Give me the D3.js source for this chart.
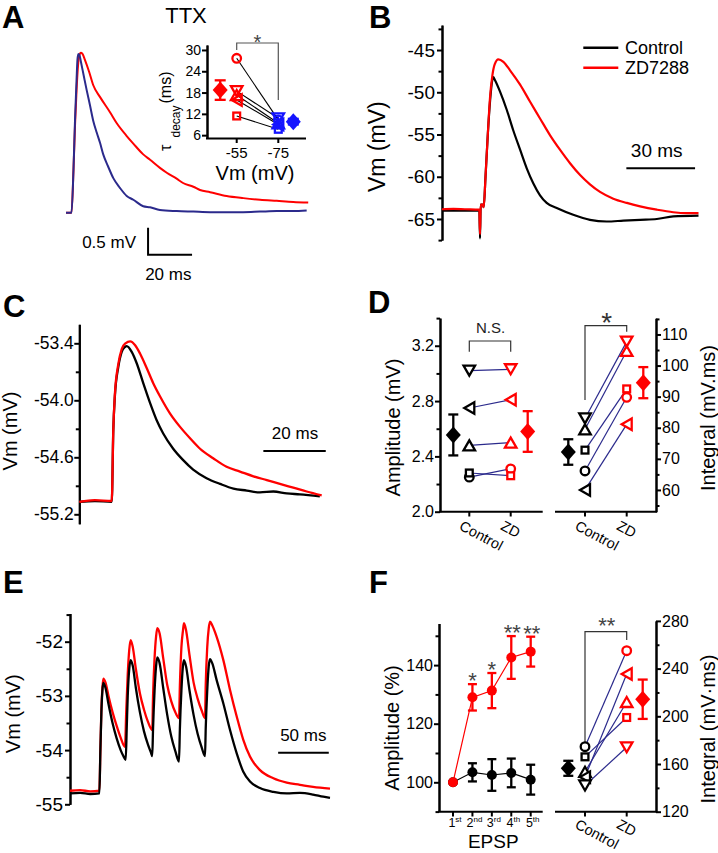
<!DOCTYPE html>
<html><head><meta charset="utf-8">
<script src="https://cdn.jsdelivr.net/npm/d3@7"></script>
<style>body{margin:0;background:#fff}</style>
</head><body><script>
// ================= DATA =================
// Panel A (TTX) traces: [time ms, mV above baseline]
const A_red = [[0,0],[2.5,0],[3.4,0.79],[4.1,1.62],[4.8,2.27],[5.5,2.74],[6.1,2.92],[6.7,2.96],[7.5,2.94],[8.6,2.83],[10.5,2.61],[12.4,2.36],[15.5,2.14],[20,1.86],[23,1.66],[27.6,1.42],[30.6,1.28],[35.1,1.08],[38.2,0.98],[42.7,0.83],[45.8,0.74],[50.3,0.63],[53.2,0.55],[57.9,0.48],[60.9,0.42],[65.5,0.38],[73,0.31],[80.6,0.27],[88.2,0.24],[95.8,0.22],[103.3,0.20],[110.1,0.19]];
const A_blue = [[0,0],[2.5,0],[3.4,0.79],[4.1,1.72],[4.8,2.46],[5.2,2.83],[5.6,2.94],[6.1,2.92],[6.8,2.79],[8,2.55],[9.4,2.27],[10.9,1.99],[12.4,1.70],[14,1.48],[15.5,1.29],[17,1.07],[19.1,0.86],[21.5,0.64],[24.5,0.46],[27.6,0.31],[30.6,0.24],[35.1,0.12],[38.2,0.10],[42.7,0.05],[50.3,0.03],[57.9,0.02],[65.5,0.01],[73,0.01],[80.5,0.01],[88.2,0.02],[95.8,0.03],[103.2,0.03],[109.4,0.04]];
// Panel A inset: tau decay (ms)
const A_cats = ['-55','-75'];
const A_shapes = ['circle','down','up','left','square'];
const A_m55 = [27.65,18.4,17.3,15.9,11.4];
const A_m75 = [10.3,10.75,9.35,9.0,7.65];
const A_mean = [18.7,9.8];
const A_err = [2.75,0.8];
const A_ticks = [6,12,18,24,30];

// Panel B traces: [ms, mV]
const B_control = [[0,-64.0],[8,-64.0],[16.3,-64.0],[16.6,-67.3],[16.9,-63.3],[17.8,-63.3],[18.2,-63.6],[19,-60],[20,-55],[21,-51],[22,-48.5],[22.4,-48.2],[23.1,-48.55],[25.3,-49.9],[28.3,-52.1],[31.1,-54.5],[34.1,-56.8],[37,-59.0],[39.9,-60.8],[42.8,-62.2],[45.7,-63.1],[50.1,-63.7],[57.3,-64.5],[64.6,-65.1],[71.9,-65.3],[79.2,-65.2],[86.5,-65.1],[93.8,-65.0],[101,-64.7],[112,-64.6]];
const B_zd = [[0,-63.85],[5,-63.8],[10,-63.85],[16.3,-63.9],[16.6,-66.8],[16.9,-63.3],[17.8,-63.3],[18.2,-63.6],[19,-60],[20,-55],[21,-50.5],[22,-48],[23,-46.7],[24.6,-46.1],[26.8,-46.4],[29.7,-47.4],[34.1,-49.1],[38.4,-51.1],[42.8,-53.1],[47.2,-55.1],[51.5,-56.8],[55.9,-58.4],[60.3,-59.8],[64.6,-60.9],[69,-61.8],[74.8,-62.6],[80.7,-63.1],[86.5,-63.5],[93.8,-63.9],[101,-64.2],[106.9,-64.3],[112,-64.3]];
const B_ticks = [-65,-60,-55,-50,-45];
const B_minor = [-67.5,-62.5,-57.5,-52.5,-47.5,-42.5];

// Panel C traces
const C_control = [[0,-55.07],[5,-55.06],[10.4,-55.07],[10.9,-54.31],[11.4,-53.96],[12.5,-53.65],[13.6,-53.49],[14.6,-53.44],[15.2,-53.43],[16.8,-53.49],[18.4,-53.61],[20.5,-53.82],[22.7,-54.03],[24.8,-54.21],[26.9,-54.35],[30.1,-54.51],[33.3,-54.63],[36.5,-54.73],[40.8,-54.82],[45.1,-54.88],[49.4,-54.93],[53.7,-54.95],[57.9,-54.97],[62.2,-54.96],[66.5,-54.98],[70.7,-54.99],[77.1,-55.01]];
const C_zd = [[0,-55.07],[5,-55.05],[10.4,-55.06],[10.9,-54.31],[11.4,-53.94],[12.5,-53.62],[13.6,-53.46],[14.8,-53.40],[16.3,-53.38],[17.9,-53.42],[19.5,-53.51],[21.6,-53.66],[23.7,-53.82],[25.9,-53.96],[29.1,-54.14],[32.3,-54.28],[35.5,-54.40],[38.7,-54.51],[42.9,-54.61],[47.2,-54.70],[51.5,-54.75],[55.8,-54.80],[60.1,-54.84],[64.3,-54.88],[68.6,-54.92],[72.9,-54.96],[77.7,-55.0]];
const C_ticks = [-55.2,-54.6,-54.0,-53.4];
const C_minor = [-54.9,-54.3,-53.7];

// Panel D
const D_cats = ['Control','ZD'];
const D_shapes = ['circle','square','up','left','down'];
const D_amp_control = [2.25,2.28,2.48,2.75,3.02];
const D_amp_zd = [2.31,2.26,2.50,2.81,3.03];
const D_amp_mean = [2.555,2.58];
const D_amp_err = [0.148,0.147];
const D_amp_ticks = [2.0,2.4,2.8,3.2];
const D_amp_minor = [2.2,2.6,3.0,3.4];
const D_int_control = [66.1,72.8,79.5,60.0,83.0];
const D_int_zd = [89.8,92.5,104.7,81.1,107.7];
const D_int_mean = [72.2,94.5];
const D_int_err = [4.1,5.0];
const D_int_ticks = [60,70,80,90,100,110];
const D_int_minor = [55,65,75,85,95,105,115];

// Panel E traces
const E_control = [[0,-54.80],[10,-54.79],[20,-54.81],[29,-54.80],[30,-54.0],[31,-53.3],[32,-52.9],[32.9,-52.76],[35,-52.85],[38,-53.15],[42,-53.5],[46,-53.78],[50,-54.0],[53,-54.12],[55,-54.18],[56,-53.6],[57,-53.0],[58.5,-52.5],[59.9,-52.34],[62,-52.45],[65,-52.85],[69,-53.3],[73,-53.65],[77,-53.9],[80,-54.05],[81.2,-54.11],[82,-53.6],[83.5,-52.9],[85,-52.45],[86.2,-52.29],[88.5,-52.4],[92,-52.85],[96,-53.35],[100,-53.75],[104,-54.02],[107.6,-54.21],[108.5,-53.6],[110,-52.9],[111.5,-52.45],[112.5,-52.34],[114.5,-52.45],[118,-52.9],[122,-53.35],[126,-53.7],[130,-53.95],[133.3,-54.11],[134,-53.6],[135.5,-52.9],[137,-52.45],[138.2,-52.32],[140.5,-52.4],[144.8,-52.71],[151.4,-53.14],[158,-53.63],[164.6,-54.06],[171.1,-54.40],[177.7,-54.58],[187.6,-54.70],[200.8,-54.77],[214,-54.80],[227,-54.79],[240,-54.82],[250,-54.86],[256.7,-54.88]];
const E_zd = [[0,-54.75],[10,-54.74],[20,-54.76],[29,-54.75],[30,-54.0],[31,-53.25],[32,-52.85],[32.9,-52.68],[35,-52.75],[38,-53.0],[42,-53.3],[46,-53.55],[50,-53.77],[54.3,-53.94],[55.5,-53.3],[57,-52.6],[58.5,-52.15],[59.9,-51.97],[62,-52.1],[65,-52.5],[69,-52.95],[73,-53.25],[77,-53.48],[81.2,-53.63],[82,-53.0],[83.5,-52.3],[85,-51.9],[86.2,-51.75],[88.5,-51.85],[92,-52.3],[96,-52.8],[100,-53.1],[104,-53.3],[107.6,-53.41],[108.5,-52.8],[110,-52.1],[111.5,-51.8],[112.5,-51.66],[114.5,-51.78],[118,-52.25],[122,-52.75],[126,-53.05],[130,-53.27],[133.3,-53.41],[134,-52.8],[135.5,-52.1],[137,-51.75],[138.2,-51.63],[140.5,-51.7],[144.8,-51.91],[151.4,-52.34],[158,-52.89],[164.6,-53.38],[171.1,-53.81],[177.7,-54.12],[187.6,-54.37],[200.8,-54.52],[214,-54.60],[227,-54.64],[240,-54.68],[256.7,-54.71]];
const E_ticks = [-55,-54,-53,-52];
const E_minor = [-54.5,-53.5,-52.5,-51.5];

// Panel F
const F_epsp = ['1','2','3','4','5'];
const F_sup = ['st','nd','rd','th','th'];
const F_amp_zd = [100,129.0,131.3,142.6,144.6];
const F_amp_zd_err = [0,4.5,6.0,7.3,5.1];
const F_amp_ctrl = [100,103.4,102.5,103.2,100.9];
const F_amp_ctrl_err = [0,3.1,5.4,4.9,5.1];
const F_stars = ['','*','*','**','**'];
const F_amp_ticks = [100,120,140];
const F_amp_minor = [90,110,130,150];
const F_int_control = [174.5,166,153.5,149,142];
const F_int_zd = [255,199,212,235.5,174];
const F_int_mean = [156.4,214.3];
const F_int_err = [6.3,16.5];
const F_int_ticks = [120,160,200,240,280];
const F_int_minor = [140,180,220,260];

// ================= DRAWING =================
const FONT = "'Liberation Sans', Arial, Helvetica, sans-serif";
const RED = '#ff0000', NAVY = '#2b2a8c', BLUE = '#1414ff';
const hy = f => d => d3.format(f)(d).replace('\u2212','-');
const svg = d3.select('body').append('svg').attr('width',718).attr('height',853)
  .style('background','#fff').attr('font-family',FONT);
svg.append('rect').attr('width',718).attr('height',853).attr('fill','#fff');

function txt(x,y,s,size,o={}){
  const t = svg.append('text').attr('x',x).attr('y',y).text(s).attr('font-size',size)
    .attr('fill',o.fill||'#000').attr('font-family',FONT);
  if(o.anchor) t.attr('text-anchor',o.anchor);
  if(o.weight) t.attr('font-weight',o.weight);
  if(o.rotate!=null) t.attr('transform',`rotate(${o.rotate},${x},${y})`);
  return t;
}
function vAxis(scale,x,major,minor,side,fmt,fs,pad){
  const mk = ()=> side==='left'?d3.axisLeft(scale):d3.axisRight(scale);
  const gm = svg.append('g').attr('transform',`translate(${x},0)`)
    .call(mk().tickValues(major).tickFormat(fmt).tickSize(5).tickSizeOuter(0).tickPadding(pad));
  const gn = svg.append('g').attr('transform',`translate(${x},0)`)
    .call(mk().tickValues(minor).tickFormat('').tickSize(3.5).tickSizeOuter(0));
  [gm,gn].forEach(a=>{
    a.attr('font-family',FONT);
    a.select('.domain').attr('stroke-width',2).attr('stroke','#000');
    a.selectAll('.tick line').attr('stroke-width',2).attr('stroke','#000');
    a.selectAll('text').attr('font-family',FONT).attr('font-size',fs).attr('fill','#000');
  });
}
function hLine(x1,x2,y,w=2,c='#000'){svg.append('line').attr('x1',x1).attr('x2',x2).attr('y1',y).attr('y2',y).attr('stroke',c).attr('stroke-width',w);}
function vLine(x,y1,y2,w=2,c='#000'){svg.append('line').attr('x1',x).attr('x2',x).attr('y1',y1).attr('y2',y2).attr('stroke',c).attr('stroke-width',w);}
function trace(data,xs,ys,color,w){
  svg.append('path').datum(data).attr('fill','none').attr('stroke',color).attr('stroke-width',w)
    .attr('stroke-linejoin','round')
    .attr('d',d3.line().x(d=>xs(d[0])).y(d=>ys(d[1])).curve(d3.curveMonotoneX));
}
function marker(type,x,y,color,fill,sw=2.3){
  let el;
  const w=11.5,h=10;
  if(type==='circle') el=svg.append('circle').attr('cx',x).attr('cy',y).attr('r',4.3);
  else if(type==='square') el=svg.append('rect').attr('x',x-3.4).attr('y',y-3.4).attr('width',6.8).attr('height',6.8);
  else {
    let p;
    if(type==='up') p=[[x-w/2,y+h/2],[x+w/2,y+h/2],[x,y-h/2]];
    else if(type==='down') p=[[x-w/2,y-h/2],[x+w/2,y-h/2],[x,y+h/2]];
    else if(type==='left') p=[[x+h/2,y-w/2],[x+h/2,y+w/2],[x-h/2,y]];
    el=svg.append('path').attr('d','M'+p.map(q=>q.join(',')).join('L')+'Z');
  }
  el.attr('fill',fill).attr('stroke',color).attr('stroke-width',sw);
}
function diamond(x,y,color){
  svg.append('path').attr('d',`M${x},${y-8.5}L${x+7.5},${y}L${x},${y+8.5}L${x-7.5},${y}Z`).attr('fill',color);
}
function errBar(x,yTop,yBot,color,cap=10,w=2.3){
  vLine(x,yTop,yBot,w,color); hLine(x-cap/2,x+cap/2,yTop,w,color); hLine(x-cap/2,x+cap/2,yBot,w,color);
}
function catLabels(xs,y,labels){
  labels.forEach((l,i)=>txt(xs[i]-11,y,l,14.5,{rotate:28}));
}

// ----- panel labels -----
[['A',2,28],['B',369,28],['C',3,317],['D',368,313],['E',3,593],['F',369,593]]
  .forEach(([l,x,y])=>txt(x,y,l,31,{weight:'bold'}));

// ================= PANEL A =================
txt(186,23,'TTX',22,{anchor:'middle'});
const xA = d3.scaleLinear().domain([0,110]).range([66,308]);
const yA = d3.scaleLinear().domain([0,1]).range([212.7,158.7]);
trace(A_red,xA,yA,RED,2);
trace(A_blue,xA,yA,NAVY,2);
// scale bar 0.5 mV / 20 ms
const sbT=37.3, sbV=-0.78;
svg.append('path').attr('d',`M${xA(sbT)},${yA(sbV+0.5)}V${yA(sbV)}H${xA(sbT+20)}`).attr('fill','none').attr('stroke','#000').attr('stroke-width',2);
txt(136,248.3,'0.5 mV',17,{anchor:'end'});
txt(168.3,280,'20 ms',17,{anchor:'middle'});
// inset
const yI = d3.scaleLinear().domain([5.2,31.4]).range([138,45]);
const xI = d3.scaleLinear().domain([0,1]).range([236.7,278.3]);
vAxis(yI,207,A_ticks,[], 'left', hy('d'),14,1);
hLine(206,306,138.5,2);
A_cats.forEach((c,i)=>{vLine(xI(i),138.5,143,2); txt(xI(i),158,c,15,{anchor:'middle'});});
txt(255,180,'Vm (mV)',20,{anchor:'middle'});
txt(171,151,'τ',16,{rotate:-90});
txt(180,137.5,'decay',12,{rotate:-90});
txt(171,103.5,'(ms)',16,{rotate:-90});
// significance
svg.append('path').attr('d',`M${xI(0)},${50}V43H${xI(1)}V${100}`).attr('fill','none').attr('stroke','#555').attr('stroke-width',1.2);
txt((xI(0)+xI(1))/2,49.3,'*',20,{anchor:'middle',fill:'#444'});
// lines
A_m55.forEach((v,i)=>svg.append('line').attr('x1',xI(0)).attr('y1',yI(v)).attr('x2',xI(1)).attr('y2',yI(A_m75[i])).attr('stroke','#000').attr('stroke-width',1.1));
errBar(xI(0)-16.5,yI(A_mean[0]+A_err[0]),yI(A_mean[0]-A_err[0]),RED,11);
diamond(xI(0)-16.5,yI(A_mean[0]),RED);
errBar(xI(1)+15,yI(A_mean[1]+A_err[1]),yI(A_mean[1]-A_err[1]),BLUE,11);
diamond(xI(1)+15,yI(A_mean[1]),BLUE);
A_shapes.forEach((s,i)=>marker(s,xI(0),yI(A_m55[i]),RED,'none'));
A_shapes.forEach((s,i)=>marker(s,xI(1),yI(A_m75[i]),BLUE,'none'));

// ================= PANEL B =================
const xB = d3.scaleLinear().domain([0,112]).range([442,698.5]);
const yB = d3.scaleLinear().domain([-67.5,-42.05]).range([240.1,25.1]);
vAxis(yB,442,B_ticks,B_minor,'left',hy('d'),19,2);
txt(385,146.7,'Vm (mV)',23,{anchor:'middle',rotate:-90});
trace(B_control,xB,yB,'#000',2.2);
trace(B_zd,xB,yB,RED,2.2);
hLine(583.3,618.3,47.7,2.5,'#000'); txt(625,53.5,'Control',18);
hLine(583.3,618.3,67.7,2.5,RED); txt(625,73.5,'ZD7288',18);
hLine(xB(80.5),xB(110.5),168.3,2);
txt(656.7,156.7,'30 ms',19,{anchor:'middle'});

// ================= PANEL C =================
const xC = d3.scaleLinear().domain([0,77.7]).range([79.3,321.7]);
const yC = d3.scaleLinear().domain([-55.3,-53.2]).range([523.8,324.3]);
vAxis(yC,79.3,C_ticks,C_minor,'left',hy('.1f'),17.5,0.5);
txt(17,431,'Vm (mV)',20,{anchor:'middle',rotate:-90});
trace(C_control,xC,yC,'#000',2.3);
trace(C_zd,xC,yC,RED,2.3);
hLine(xC(59),xC(79),451,2);
txt(295,439,'20 ms',17,{anchor:'middle'});

// ================= PANEL D =================
const yDa = d3.scaleLinear().domain([2.0,3.4]).range([511.7,318.1]);
const xDa = d3.scaleLinear().domain([0,1]).range([469.3,510.7]);
vAxis(yDa,440,D_amp_ticks,D_amp_minor,'left',hy('.1f'),16,1);
hLine(439,542.7,511.7,2);
[0,1].forEach(i=>vLine(xDa(i),511.7,516.5,2));
txt(400,427.5,'Amplitude (mV)',20,{anchor:'middle',rotate:-90});
catLabels([xDa(0),xDa(1)],529,D_cats);
svg.append('path').attr('d',`M${xDa(0)},351.7V341H${xDa(1)}V351.7`).attr('fill','none').attr('stroke','#333').attr('stroke-width',1.2);
txt(490.5,333.3,'N.S.',15,{anchor:'middle',fill:'#222'});
D_amp_control.forEach((v,i)=>svg.append('line').attr('x1',xDa(0)).attr('y1',yDa(v)).attr('x2',xDa(1)).attr('y2',yDa(D_amp_zd[i])).attr('stroke',NAVY).attr('stroke-width',1.2));
D_shapes.forEach((s,i)=>marker(s,xDa(0),yDa(D_amp_control[i]),'#000','#fff'));
D_shapes.forEach((s,i)=>marker(s,xDa(1),yDa(D_amp_zd[i]),RED,'#fff'));
errBar(xDa(0)-16,yDa(D_amp_mean[0]+D_amp_err[0]),yDa(D_amp_mean[0]-D_amp_err[0]),'#000');
diamond(xDa(0)-16,yDa(D_amp_mean[0]),'#000');
errBar(xDa(1)+17,yDa(D_amp_mean[1]+D_amp_err[1]),yDa(D_amp_mean[1]-D_amp_err[1]),RED);
diamond(xDa(1)+17,yDa(D_amp_mean[1]),RED);

const yDi = d3.scaleLinear().domain([53,115.2]).range([511.7,318.3]);
const xDi = d3.scaleLinear().domain([0,1]).range([585,626.7]);
vAxis(yDi,656,D_int_ticks,D_int_minor,'right',hy('d'),16,1);
hLine(555,657,511.7,2);
[0,1].forEach(i=>vLine(xDi(i),511.7,516.5,2));
txt(715,418,'Integral (mV.ms)',20,{anchor:'middle',rotate:-90});
catLabels([xDi(0),xDi(1)],529,D_cats);
svg.append('path').attr('d',`M${xDi(0)},400V325.7H${xDi(1)}V331.7`).attr('fill','none').attr('stroke','#333').attr('stroke-width',1.2);
txt(606.7,332,'*',28,{anchor:'middle',fill:'#333'});
D_int_control.forEach((v,i)=>svg.append('line').attr('x1',xDi(0)).attr('y1',yDi(v)).attr('x2',xDi(1)).attr('y2',yDi(D_int_zd[i])).attr('stroke',NAVY).attr('stroke-width',1.2));
D_shapes.forEach((s,i)=>marker(s,xDi(0),yDi(D_int_control[i]),'#000','#fff'));
D_shapes.forEach((s,i)=>marker(s,xDi(1),yDi(D_int_zd[i]),RED,'#fff'));
errBar(xDi(0)-16.7,yDi(D_int_mean[0]+D_int_err[0]),yDi(D_int_mean[0]-D_int_err[0]),'#000');
diamond(xDi(0)-16.7,yDi(D_int_mean[0]),'#000');
errBar(xDi(1)+16.6,yDi(D_int_mean[1]+D_int_err[1]),yDi(D_int_mean[1]-D_int_err[1]),RED);
diamond(xDi(1)+16.6,yDi(D_int_mean[1]),RED);

// ================= PANEL E =================
const xE = d3.scaleLinear().domain([0,256.7]).range([70,330]);
const yE = d3.scaleLinear().domain([-55.0,-51.48]).range([804.3,613.5]);
vAxis(yE,70,E_ticks,E_minor,'left',hy('d'),19,2);
txt(20,713.7,'Vm (mV)',20,{anchor:'middle',rotate:-90});
trace(E_zd,xE,yE,RED,2.3);
trace(E_control,xE,yE,'#000',2.3);
hLine(xE(205.5),xE(255.5),752.7,2);
txt(303.3,741,'50 ms',17,{anchor:'middle'});

// ================= PANEL F =================
const yFa = d3.scaleLinear().domain([90,154.2]).range([811.6,623.5]);
const xFa = d3.scaleLinear().domain([1,5]).range([453,530.7]);
vAxis(yFa,439,F_amp_ticks,F_amp_minor,'left',hy('d'),16,1);
hLine(438,542.7,811.7,2);
F_epsp.forEach((e,i)=>{
  vLine(xFa(i+1),811.7,816.5,2);
  const t=svg.append('text').attr('x',xFa(i+1)+2).attr('y',827).attr('text-anchor','middle').attr('font-size',12.5).attr('font-family',FONT);
  t.append('tspan').text(e);
  t.append('tspan').text(F_sup[i]).attr('font-size',8).attr('dy',-5);
});
txt(493.3,848,'EPSP',19,{anchor:'middle'});
txt(399,728,'Amplitude (%)',20,{anchor:'middle',rotate:-90});
const lineF = d3.line().x((d,i)=>xFa(i+1)).y(d=>yFa(d));
svg.append('path').datum(F_amp_ctrl).attr('d',lineF).attr('fill','none').attr('stroke','#000').attr('stroke-width',1.2);
F_amp_ctrl.forEach((v,i)=>{ if(F_amp_ctrl_err[i]>0) errBar(xFa(i+1),yFa(v+F_amp_ctrl_err[i]),yFa(v-F_amp_ctrl_err[i]),'#000',9);
  svg.append('circle').attr('cx',xFa(i+1)).attr('cy',yFa(v)).attr('r',5).attr('fill','#000');});
svg.append('path').datum(F_amp_zd).attr('d',lineF).attr('fill','none').attr('stroke',RED).attr('stroke-width',1.2);
F_amp_zd.forEach((v,i)=>{ if(F_amp_zd_err[i]>0) errBar(xFa(i+1),yFa(v+F_amp_zd_err[i]),yFa(v-F_amp_zd_err[i]),RED,9);
  svg.append('circle').attr('cx',xFa(i+1)).attr('cy',yFa(v)).attr('r',5).attr('fill',RED);
  if(F_stars[i]) txt(xFa(i+1)+(F_stars[i].length>1?1:0),yFa(v+F_amp_zd_err[i])+4,F_stars[i],22,{anchor:'middle',fill:'#444'});
});

const yFi = d3.scaleLinear().domain([120,280]).range([811.7,620.9]);
const xFi = d3.scaleLinear().domain([0,1]).range([585,626.7]);
vAxis(yFi,656,F_int_ticks,F_int_minor,'right',hy('d'),16,1);
hLine(555,657,811.7,2);
[0,1].forEach(i=>vLine(xFi(i),811.7,816.5,2));
txt(715,729,'Integral (mV·ms)',20,{anchor:'middle',rotate:-90});
catLabels([xFi(0),xFi(1)],827.5,D_cats);
svg.append('path').attr('d',`M${xFi(0)},745V631.7H${xFi(1)}V640`).attr('fill','none').attr('stroke','#333').attr('stroke-width',1.2);
txt(606.7,632.7,'**',22,{anchor:'middle',fill:'#444'});
F_int_control.forEach((v,i)=>svg.append('line').attr('x1',xFi(0)).attr('y1',yFi(v)).attr('x2',xFi(1)).attr('y2',yFi(F_int_zd[i])).attr('stroke',NAVY).attr('stroke-width',1.2));
D_shapes.forEach((s,i)=>marker(s,xFi(0),yFi(F_int_control[i]),'#000','#fff'));
D_shapes.forEach((s,i)=>marker(s,xFi(1),yFi(F_int_zd[i]),RED,'#fff'));
errBar(xFi(0)-16.7,yFi(F_int_mean[0]+F_int_err[0]),yFi(F_int_mean[0]-F_int_err[0]),'#000');
diamond(xFi(0)-16.7,yFi(F_int_mean[0]),'#000');
errBar(xFi(1)+16,yFi(F_int_mean[1]+F_int_err[1]),yFi(F_int_mean[1]-F_int_err[1]),RED);
diamond(xFi(1)+16,yFi(F_int_mean[1]),RED);
</script></body></html>
